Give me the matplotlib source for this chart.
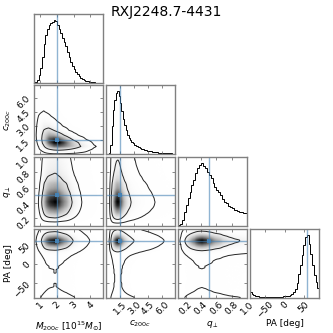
import numpy as np
import matplotlib
matplotlib.use("Agg")
import matplotlib.pyplot as plt
from matplotlib.colors import LinearSegmentedColormap

# ---------------- data ----------------
title = "RXJ2248.7-4431"
labels = [r"$M_{200c}$ [$10^{15}M_{\odot}$]", r"$c_{200c}$", r"$q_{\perp}$", "PA [deg]"]
truths = [2.0, 1.5, 0.5, 58.0]
ranges = [(0.62, 4.75), (0.0, 7.35), (0.1, 1.0), (-90.0, 90.0)]
ticks = [[1, 2, 3, 4], [1.5, 3.0, 4.5, 6.0], [0.2, 0.4, 0.6, 0.8, 1.0], [-50, 0, 50]]
ticklabels = [["1", "2", "3", "4"], ["1.5", "3.0", "4.5", "6.0"],
              ["0.2", "0.4", "0.6", "0.8", "1.0"], ["\u221250", "0", "50"]]

# 1D marginal histograms (relative heights)
m_edges = np.linspace(0.6, 4.8, 43)
m_hist = [0.01, 0.02, 0.05, 0.12, 0.24, 0.42, 0.62, 0.76, 0.86, 0.92, 0.95, 0.97, 1.0,
          0.99, 0.93, 0.86, 0.79, 0.72, 0.65, 0.59, 0.50, 0.41, 0.33, 0.27, 0.22, 0.18,
          0.14, 0.11, 0.08, 0.06, 0.045, 0.035, 0.026, 0.02, 0.015, 0.011, 0.008, 0.006,
          0.004, 0.003, 0.002, 0.001]
c_edges = np.linspace(0.0, 7.35, 50)
c_hist = [0, 0, 0.02, 0.15, 0.45, 0.70, 0.86, 0.97, 1.0, 0.93, 0.82, 0.68, 0.56, 0.46,
          0.38, 0.31, 0.26, 0.22, 0.19, 0.17, 0.15, 0.13, 0.12, 0.105, 0.095, 0.085,
          0.075, 0.068, 0.06, 0.055, 0.05, 0.045, 0.04, 0.036, 0.032, 0.029, 0.026,
          0.023, 0.02, 0.018, 0.016, 0.014, 0.012, 0.011, 0.01, 0.009, 0.008, 0.007,
          0.006]
q_edges = np.linspace(0.1, 1.0, 37)
q_hist = [0.01, 0.03, 0.10, 0.22, 0.33, 0.44, 0.55, 0.65, 0.74, 0.85, 0.93, 0.97, 1.0,
          0.96, 0.93, 0.86, 0.81, 0.76, 0.68, 0.62, 0.58, 0.55, 0.50, 0.43, 0.39, 0.36,
          0.32, 0.30, 0.28, 0.26, 0.25, 0.24, 0.23, 0.22, 0.21, 0.20]
pa_edges = np.linspace(-90.0, 90.0, 41)
pa_hist = [0.09, 0.06, 0.04, 0.03, 0.025, 0.022, 0.02, 0.02, 0.02, 0.018, 0.018, 0.018,
           0.018, 0.018, 0.02, 0.02, 0.02, 0.022, 0.022, 0.025, 0.028, 0.03, 0.035,
           0.045, 0.06, 0.09, 0.14, 0.24, 0.38, 0.52, 0.68, 0.84, 0.97, 1.0, 0.86,
           0.70, 0.52, 0.37, 0.26, 0.16]

# joint M200c - c200c density (read on a coarse grid, rows = c nodes)
mc_m_nodes = [0.62, 0.9, 1.2, 1.5, 1.8, 2.1, 2.4, 2.7, 3.0, 3.4, 3.8, 4.2, 4.75]
mc_c_nodes = [0.0, 0.4, 0.8, 1.2, 1.6, 2.0, 2.5, 3.0, 3.5, 4.0, 4.5, 5.5, 7.35]
mc_grid = [
    [0, 0.00, 0.01, 0.02, 0.03, 0.03, 0.03, 0.02, 0.02, 0.01, 0.01, 0.0, 0],
    [0, 0.02, 0.08, 0.18, 0.26, 0.28, 0.26, 0.22, 0.17, 0.11, 0.06, 0.02, 0],
    [0, 0.05, 0.25, 0.55, 0.75, 0.78, 0.70, 0.58, 0.45, 0.30, 0.16, 0.06, 0.01],
    [0, 0.07, 0.38, 0.80, 0.98, 1.00, 0.85, 0.62, 0.42, 0.24, 0.10, 0.03, 0.005],
    [0, 0.09, 0.42, 0.78, 0.88, 0.78, 0.58, 0.38, 0.22, 0.10, 0.03, 0.008, 0],
    [0, 0.10, 0.38, 0.58, 0.56, 0.44, 0.30, 0.17, 0.08, 0.03, 0.008, 0, 0],
    [0, 0.09, 0.30, 0.38, 0.30, 0.20, 0.11, 0.05, 0.02, 0.006, 0, 0, 0],
    [0, 0.08, 0.22, 0.22, 0.15, 0.08, 0.035, 0.012, 0.004, 0, 0, 0, 0],
    [0, 0.065, 0.14, 0.12, 0.07, 0.035, 0.012, 0.004, 0, 0, 0, 0, 0],
    [0, 0.05, 0.08, 0.06, 0.035, 0.014, 0.005, 0, 0, 0, 0, 0, 0],
    [0, 0.035, 0.05, 0.035, 0.018, 0.007, 0, 0, 0, 0, 0, 0, 0],
    [0, 0.015, 0.02, 0.012, 0.006, 0.002, 0, 0, 0, 0, 0, 0, 0],
    [0, 0.003, 0.004, 0.002, 0.001, 0, 0, 0, 0, 0, 0, 0, 0],
]
levels_mass = [0.68, 0.95]

# ---------------- helpers ----------------
edges_all = [m_edges, c_edges, q_edges, pa_edges]
hists_all = [np.array(m_hist), np.array(c_hist), np.array(q_hist), np.array(pa_hist)]
NF = 120


def marginal_on(i, xf):
    e = edges_all[i]
    cen = 0.5 * (e[1:] + e[:-1])
    return np.interp(xf, cen, hists_all[i])


def grid_on(xn, yn, Z, xf, yf):
    Z = np.asarray(Z, float)
    Z1 = np.array([np.interp(xf, xn, row) for row in Z])
    return np.array([np.interp(yf, yn, Z1[:, j]) for j in range(len(xf))]).T


def mass_levels(D, fracs):
    flat = np.sort(D.ravel())[::-1]
    cs = np.cumsum(flat)
    cs /= cs[-1]
    out = []
    for f in fracs:
        idx = np.searchsorted(cs, f)
        out.append(flat[min(idx, len(flat) - 1)])
    return sorted(out)


cmap = LinearSegmentedColormap.from_list("dens", [(1, 1, 1, 0), (0, 0, 0, 1)])
truth_color = "#4682b4"

# ---------------- figure ----------------
fig = plt.figure(figsize=(3.33, 3.33), dpi=100)
W = 333.0
col_left = [34, 106, 178, 250]
row_top = [14, 85, 157, 229]
size = 69

fs = 6.5
for i in range(4):
    for j in range(i + 1):
        ax = fig.add_axes([col_left[j] / W, 1 - (row_top[i] + size) / W, size / W, size / W])
        xr = ranges[j]
        if i == j:
            e = edges_all[i]
            h = hists_all[i]
            ax.stairs(h, e, color="k", lw=0.7)
            ax.set_ylim(0, 1.1 * h.max())
            ax.axvline(truths[i], color=truth_color, lw=1.0, alpha=0.6)
            ax.set_yticks([])
        else:
            yr = ranges[i]
            xf = np.linspace(xr[0], xr[1], NF)
            yf = np.linspace(yr[0], yr[1], NF)
            if (j, i) == (0, 1):
                D = grid_on(mc_m_nodes, mc_c_nodes, mc_grid, xf, yf)
            else:
                D = np.outer(marginal_on(i, yf), marginal_on(j, xf))
            D = D / D.max()
            ax.imshow(D, extent=[xr[0], xr[1], yr[0], yr[1]], origin="lower",
                      aspect="auto", cmap=cmap, vmin=0, vmax=1, interpolation="bilinear")
            lv = mass_levels(D, levels_mass)
            ax.contour(xf, yf, D, levels=lv, colors="0.15", linewidths=0.7)
            ax.axvline(truths[j], color=truth_color, lw=1.0, alpha=0.6)
            ax.axhline(truths[i], color=truth_color, lw=1.0, alpha=0.6)
            ax.plot(truths[j], truths[i], "s", color=truth_color, ms=2.2, mew=0)
            ax.set_ylim(*yr)
            ax.set_yticks(ticks[i])
            if j == 0:
                ax.set_yticklabels(ticklabels[i])
                plt.setp(ax.get_yticklabels(), rotation=45)
                ax.set_ylabel(labels[i], fontsize=fs)
                ax.yaxis.set_label_coords(-0.3, 0.5)
            else:
                ax.set_yticklabels([])
        ax.set_xlim(*xr)
        ax.set_xticks(ticks[j])
        if i == 3:
            ax.set_xticklabels(ticklabels[j])
            plt.setp(ax.get_xticklabels(), rotation=45)
            ax.set_xlabel(labels[j], fontsize=fs)
            ax.xaxis.set_label_coords(0.5, -0.3)
        else:
            ax.set_xticklabels([])
        ax.tick_params(direction="in", length=2.2, width=0.5, colors="0.35",
                       labelcolor="k", labelsize=fs, pad=1.5, top=True, right=(i != j))
        for s in ax.spines.values():
            s.set_color("0.5")
            s.set_linewidth(1.0)

fig.text(0.5, 1 - 12 / W, title, ha="center", va="center", fontsize=10)
fig.savefig("out.png", dpi=100)
